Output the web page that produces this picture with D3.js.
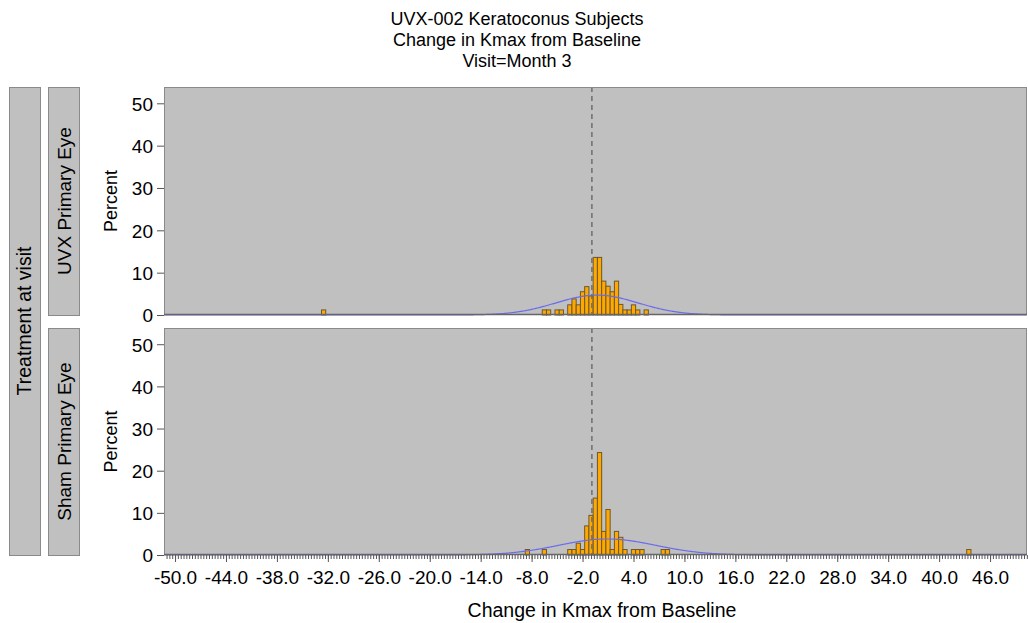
<!DOCTYPE html>
<html>
<head>
<meta charset="utf-8">
<script src="https://cdn.jsdelivr.net/npm/d3@7"></script>
<style>
  body { margin: 0; background: #fff; }
  svg text { font-family: "Liberation Sans", Arial, sans-serif; fill: #000; }
</style>
</head>
<body>
<div id="chart"></div>
<script>
// histogram bins (bin width 0.5), values are percent of subjects
var titleLines = ["UVX-002 Keratoconus Subjects", "Change in Kmax from Baseline", "Visit=Month 3"];
var panelNames = ["UVX Primary Eye", "Sham Primary Eye"];
var binWidth = 0.5;

var uvxCenters = [-32.5, -6.5, -6.0, -5.0, -4.5, -3.5, -3.0, -2.5, -2.0, -1.5, -1.0, -0.5, 0.0, 0.5, 1.0, 1.5, 2.0, 2.5, 3.0, 3.5, 4.0, 4.5, 5.5];
var uvxPercent = [1.2, 1.2, 1.2, 1.2, 1.2, 2.4, 3.8, 2.4, 5.5, 6.7, 4.5, 13.6, 13.6, 8.0, 6.8, 5.5, 8.0, 2.5, 1.2, 1.2, 2.4, 1.2, 1.2];

var shamCenters = [-8.5, -6.5, -3.5, -3.0, -2.5, -2.0, -1.5, -1.0, -0.5, 0.0, 0.5, 1.0, 1.5, 2.0, 2.5, 3.0, 4.0, 4.5, 5.0, 7.5, 8.0, 43.5];
var shamPercent = [1.3, 1.3, 1.3, 1.3, 2.8, 1.3, 6.9, 9.4, 13.5, 24.3, 5.6, 10.8, 1.3, 5.6, 4.2, 1.3, 1.3, 1.3, 1.3, 1.3, 1.3, 1.3];

// fitted normal curves (mean, std dev, peak percent) and reference line
var uvxNormal = { mean: -0.3, sd: 4.85, peak: 4.7 };
var shamNormal = { mean: 0.9, sd: 5.7, peak: 3.8 };
var refLine = -0.9;

var xTickValues = d3.range(-50, 47, 6);
var yTickValues = [0, 10, 20, 30, 40, 50];

var W = 1028, H = 623;
var svg = d3.select("#chart").append("svg").attr("width", W).attr("height", H);

var plotLeft = 164, plotRight = 1027;
var panels = [
  { name: panelNames[0], top: 87, bottom: 315, centers: uvxCenters, pct: uvxPercent, fit: uvxNormal },
  { name: panelNames[1], top: 328, bottom: 555, centers: shamCenters, pct: shamPercent, fit: shamNormal }
];

var x = d3.scaleLinear().domain([-51.3, 50.35]).range([plotLeft, plotRight]);

var gray = "#c0c0c0", border = "#8a8a8a";
var fmt = function (d) { return d.toFixed(1); };

// titles
svg.selectAll(".title").data(titleLines).enter().append("text")
  .attr("x", 517).attr("y", function (d, i) { return 25 + i * 21; })
  .attr("text-anchor", "middle").style("font-size", "18px")
  .text(function (d) { return d; });

// outer strip
svg.append("rect").attr("x", 9.5).attr("y", 87.5).attr("width", 31).attr("height", 468)
  .style("fill", gray).style("stroke", border);
svg.append("text").attr("transform", "translate(31," + 321 + ") rotate(-90)")
  .attr("text-anchor", "middle").style("font-size", "19.5px").text("Treatment at visit");

panels.forEach(function (p) {
  var y = d3.scaleLinear().domain([0, 53.85]).range([p.bottom, p.top]);
  var g = svg.append("g");

  // inner strip
  g.append("rect").attr("x", 48.5).attr("y", p.top + 0.5).attr("width", 31).attr("height", p.bottom - p.top)
    .style("fill", gray).style("stroke", border);
  g.append("text").attr("transform", "translate(71," + (p.top + p.bottom) / 2 + ") rotate(-90)")
    .attr("text-anchor", "middle").style("font-size", "19px").text(p.name);

  // y label
  g.append("text").attr("transform", "translate(117," + (p.top + p.bottom) / 2 + ") rotate(-90)")
    .attr("text-anchor", "middle").style("font-size", "18px").text("Percent");

  // panel background
  g.append("rect").attr("x", plotLeft).attr("y", p.top).attr("width", plotRight - plotLeft).attr("height", p.bottom - p.top)
    .style("fill", gray);

  // y axis
  var yAxis = g.append("g").attr("transform", "translate(" + plotLeft + ",0)")
    .call(d3.axisLeft(y).tickValues(yTickValues).tickSize(7).tickPadding(4));
  yAxis.select(".domain").remove();
  yAxis.selectAll("line").style("stroke", "#555");
  yAxis.selectAll("text").style("font-size", "19px").attr("dy", "0.36em");

  // bars
  g.selectAll(".bar").data(p.centers).enter().append("rect")
    .attr("x", function (d) { return x(d - binWidth / 2); })
    .attr("width", function (d) { return x(d + binWidth / 2) - x(d - binWidth / 2); })
    .attr("y", function (d, i) { return y(p.pct[i]); })
    .attr("height", function (d, i) { return y(0) - y(p.pct[i]); })
    .style("fill", "#ffa800").style("stroke", "#6b5830").style("stroke-width", 1);

  // normal curve
  var xs = d3.range(-51.3, 50.36, 0.1);
  var line = d3.line()
    .x(function (d) { return x(d); })
    .y(function (d) {
      var z = (d - p.fit.mean) / p.fit.sd;
      return y(p.fit.peak * Math.exp(-0.5 * z * z));
    });
  g.append("path").datum(xs).attr("d", line)
    .style("fill", "none").style("stroke", "#6a6af0").style("stroke-width", 1.2);

  // reference line
  g.append("line").attr("x1", x(refLine)).attr("x2", x(refLine)).attr("y1", p.top).attr("y2", p.bottom)
    .style("stroke", "#6e6e6e").style("stroke-width", 1.5).style("stroke-dasharray", "5,4");

  // panel border
  g.append("rect").attr("x", plotLeft + 0.5).attr("y", p.top + 0.5).attr("width", plotRight - plotLeft - 1).attr("height", p.bottom - p.top - 1)
    .style("fill", "none").style("stroke", border);
  g.append("line").attr("x1", plotLeft).attr("x2", plotRight).attr("y1", p.bottom - 0.5).attr("y2", p.bottom - 0.5)
    .style("stroke", "#666").style("stroke-width", 1.5);
});

// x axis on the bottom panel
var axisY = panels[1].bottom;
var minor = d3.range(-51, 50.36, 1 / 3).filter(function (v) { return v >= -51.3; });
var xMinor = svg.append("g").attr("transform", "translate(0," + axisY + ")")
  .call(d3.axisBottom(x).tickValues(minor).tickSize(4).tickFormat(""));
xMinor.select(".domain").remove();
xMinor.selectAll("line").style("stroke", "#555");

var xAxis = svg.append("g").attr("transform", "translate(0," + axisY + ")")
  .call(d3.axisBottom(x).tickValues(xTickValues).tickSize(7).tickPadding(9).tickFormat(fmt));
xAxis.select(".domain").remove();
xAxis.selectAll("line").style("stroke", "#555");
xAxis.selectAll("text").style("font-size", "19px").attr("dy", "0.71em");

svg.append("text").attr("x", 602).attr("y", 617).attr("text-anchor", "middle")
  .style("font-size", "19.5px").text("Change in Kmax from Baseline");
</script>
</body>
</html>
